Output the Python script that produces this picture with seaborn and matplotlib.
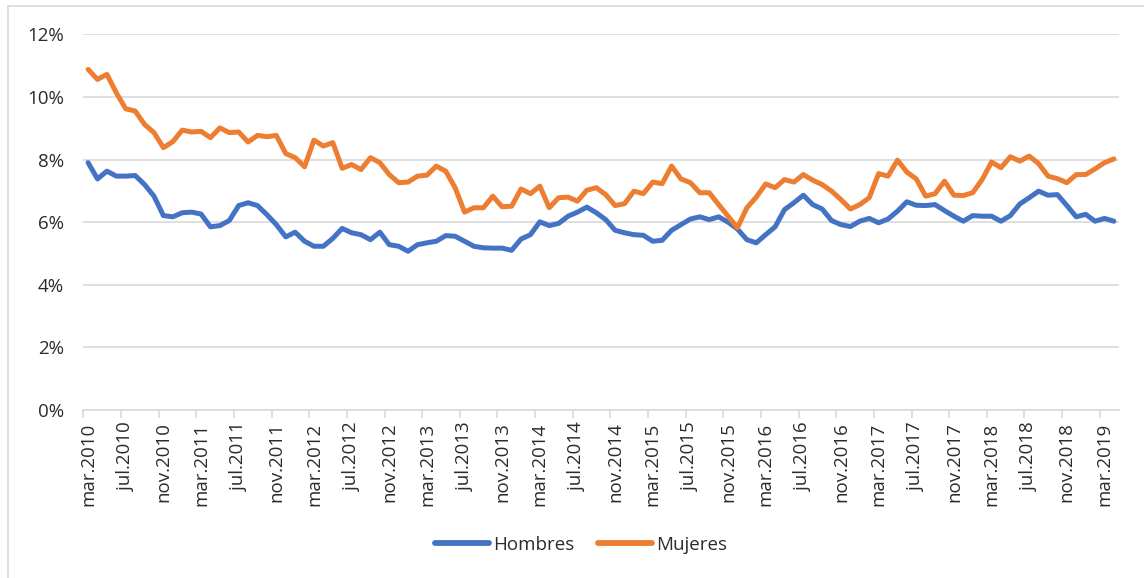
import numpy as np
import pandas as pd
import matplotlib
matplotlib.use("Agg")
import matplotlib.pyplot as plt
from matplotlib.lines import Line2D
from matplotlib.ticker import FuncFormatter, FixedLocator
import seaborn as sns

# ---- data (percent), monthly mar.2010 .. apr.2019 ----
hombres = [
    7.90, 7.38, 7.63, 7.47, 7.47, 7.49, 7.20, 6.83, 6.21, 6.17,
    6.30, 6.32, 6.26, 5.85, 5.89, 6.05, 6.53, 6.62, 6.53, 6.24,
    5.92, 5.53, 5.68, 5.39, 5.23, 5.23, 5.48, 5.80, 5.66, 5.60,
    5.44, 5.68, 5.28, 5.23, 5.07, 5.28, 5.34, 5.39, 5.57, 5.55,
    5.39, 5.23, 5.18, 5.17, 5.17, 5.10, 5.46, 5.60, 6.01, 5.89,
    5.96, 6.19, 6.32, 6.48, 6.30, 6.08, 5.74, 5.66, 5.60, 5.58,
    5.39, 5.42, 5.74, 5.92, 6.10, 6.17, 6.08, 6.17, 6.00, 5.78,
    5.44, 5.34, 5.60, 5.85, 6.40, 6.62, 6.86, 6.56, 6.42, 6.05,
    5.92, 5.86, 6.03, 6.12, 5.98, 6.10, 6.35, 6.65, 6.54, 6.53,
    6.56, 6.37, 6.19, 6.03, 6.21, 6.19, 6.19, 6.03, 6.21, 6.58,
    6.78, 6.99, 6.86, 6.88, 6.53, 6.17, 6.25, 6.03, 6.12, 6.03,
]
mujeres = [
    10.88, 10.56, 10.72, 10.13, 9.62, 9.55, 9.12, 8.86, 8.38, 8.57,
    8.94, 8.88, 8.90, 8.70, 9.01, 8.86, 8.88, 8.56, 8.77, 8.73,
    8.77, 8.19, 8.06, 7.77, 8.62, 8.43, 8.54, 7.72, 7.84, 7.68,
    8.06, 7.90, 7.52, 7.26, 7.28, 7.47, 7.50, 7.79, 7.63, 7.10,
    6.32, 6.46, 6.46, 6.83, 6.49, 6.51, 7.06, 6.91, 7.15, 6.46,
    6.78, 6.80, 6.67, 7.02, 7.10, 6.88, 6.53, 6.59, 6.99, 6.91,
    7.28, 7.23, 7.79, 7.38, 7.26, 6.94, 6.94, 6.56, 6.19, 5.82,
    6.46, 6.80, 7.22, 7.10, 7.36, 7.28, 7.52, 7.34, 7.20, 6.99,
    6.72, 6.42, 6.56, 6.78, 7.55, 7.47, 7.98, 7.60, 7.38, 6.83,
    6.91, 7.31, 6.86, 6.85, 6.94, 7.36, 7.92, 7.74, 8.09, 7.95,
    8.11, 7.87, 7.47, 7.39, 7.26, 7.52, 7.52, 7.70, 7.90, 8.02,
]
series_names = ["Hombres", "Mujeres"]
tick_labels = [
    "mar.2010", "jul.2010", "nov.2010",
    "mar.2011", "jul.2011", "nov.2011",
    "mar.2012", "jul.2012", "nov.2012",
    "mar.2013", "jul.2013", "nov.2013",
    "mar.2014", "jul.2014", "nov.2014",
    "mar.2015", "jul.2015", "nov.2015",
    "mar.2016", "jul.2016", "nov.2016",
    "mar.2017", "jul.2017", "nov.2017",
    "mar.2018", "jul.2018", "nov.2018",
    "mar.2019",
]
y_ticks = [0, 2, 4, 6, 8, 10, 12]

n = len(hombres)
mes = np.arange(n)
df = pd.DataFrame({
    "mes": np.concatenate([mes, mes]),
    "valor": hombres + mujeres,
    "serie": [series_names[0]] * n + [series_names[1]] * n,
})

sns.set_theme(style="white")
plt.rcParams["font.family"] = ["Open Sans", "DejaVu Sans"]

fig = plt.figure(figsize=(11.44, 5.78), dpi=100)
ax = fig.add_axes([83.4 / 1144, 1 - 410 / 578, (1118.6 - 83.4) / 1144, (410 - 34.3) / 578])

palette = {"Hombres": "#4472C4", "Mujeres": "#ED7D31"}
sns.lineplot(data=df, x="mes", y="valor", hue="serie", palette=palette,
             linewidth=3.6, ax=ax, legend=False)
for ln in ax.lines:
    ln.set_solid_joinstyle("round")
    ln.set_solid_capstyle("round")

ax.set_xlim(-0.5, n - 0.5)
ax.set_ylim(0, 12)
ax.set_xlabel("")
ax.set_ylabel("")

grid_c = "#D9D9D9"
text_c = "#2B2B2B"
fs = 13.5

# y axis
ax.yaxis.set_major_locator(FixedLocator(y_ticks))
ax.yaxis.set_major_formatter(FuncFormatter(lambda v, p: f"{v:.0f}%"))
ax.tick_params(axis="y", length=0, pad=14, labelsize=fs, labelcolor=text_c)
ax.grid(axis="y", color=grid_c, linewidth=1.2)
ax.set_axisbelow(True)

# x axis: tick marks between categories, labels centred on categories
label_pos = np.arange(0, n, 4)[:len(tick_labels)]
ax.set_xticks(label_pos - 0.5)
ax.set_xticklabels([])
ax.set_xticks(label_pos, minor=True)
ax.set_xticklabels(tick_labels, minor=True, rotation=90)
ax.tick_params(axis="x", which="major", length=6, width=1.2, color=grid_c,
               direction="out", bottom=True)
ax.tick_params(axis="x", which="minor", length=0, pad=9, labelsize=fs,
               labelcolor=text_c, bottom=True)

for s in ["top", "right", "left"]:
    ax.spines[s].set_visible(False)
ax.spines["bottom"].set_color(grid_c)
ax.spines["bottom"].set_linewidth(1.2)

# legend
handles = [Line2D([0], [0], color=palette[s], linewidth=4.2, solid_capstyle="round")
           for s in series_names]
fig.legend(handles, series_names, loc="center", bbox_to_anchor=(581 / 1144, 1 - 545 / 578),
           ncol=2, frameon=False, fontsize=fs, handlelength=2.9, handletextpad=0.2,
           columnspacing=1.25, labelcolor=text_c)

# chart-area border
fig.add_artist(Line2D([7.5 / 1144, 1.0], [1 - 5.5 / 578, 1 - 5.5 / 578],
                      transform=fig.transFigure, color=grid_c, linewidth=1.2))
fig.add_artist(Line2D([7.5 / 1144, 7.5 / 1144], [0.0, 1 - 5.5 / 578],
                      transform=fig.transFigure, color=grid_c, linewidth=1.2))

fig.savefig("out.png", dpi=100)
